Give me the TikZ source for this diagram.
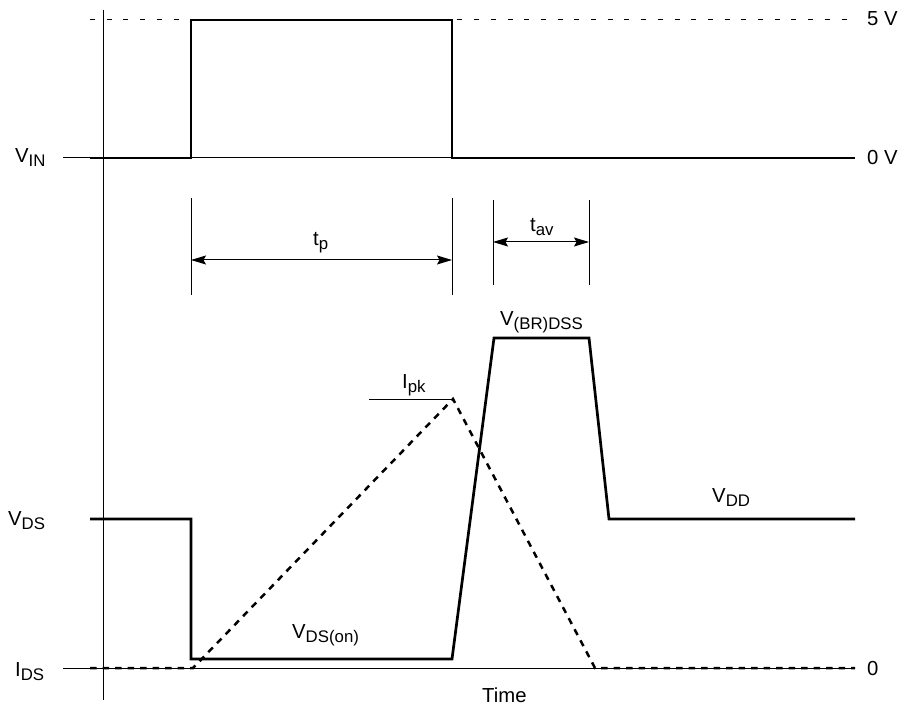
\documentclass[tikz,border=0pt]{standalone}
\usepackage{fontspec}
\setmainfont{Liberation Sans}
\usepackage{tikz}
\usetikzlibrary{arrows.meta, positioning}
\newcommand{\lowsub}[1]{\raisebox{-4pt}{\fontsize{16.8}{18}\selectfont #1}}

\begin{document}
\begin{tikzpicture}[x=1pt,y=-1pt,
  every node/.style={font=\fontsize{20.3}{24}\selectfont, inner sep=0pt, anchor=base west},
  wave/.style={line width=2.7pt, line join=miter},
  base/.style={line width=1pt},
  dim/.style={line width=1pt, {Stealth[length=15pt,width=9pt,inset=2.5pt]}-{Stealth[length=15pt,width=9pt,inset=2.5pt]}}]
\useasboundingbox (0,0) rectangle (904,708);
% axes and reference levels
\path coordinate (top) at (103,10)
      coordinate (bot) at (103,700)
      coordinate (hiL) at (90,20)   coordinate (hiR) at (855,20)
      coordinate (inL) at (63,158)  coordinate (inR) at (855,158)
      coordinate (idL) at (63,668)  coordinate (idR) at (855,668);
\draw[base] (top) -- (bot);
\draw[base, dash pattern=on 5pt off 11.7pt] (hiL) -- (hiR);
\draw[base] (inL) -- (inR);
\draw[base] (idL) -- (idR);
% input pulse
\draw[wave] (90,158) -- (191,158) -- (191,20) -- (452,20) -- (452,158) -- (inR);
% dimension lines
\path coordinate (p1) at (191,198) coordinate (p2) at (452,198)
      coordinate (a1) at (493,200) coordinate (a2) at (589,200);
\draw[base] (p1) -- ++(0,97);
\draw[base] (p2) -- ++(0,97);
\draw[base] (a1) -- ++(0,85);
\draw[base] (a2) -- ++(0,85);
\draw[dim] (191,260) -- (452,260);
\draw[dim] (493,242) -- (589,242);
% drain voltage
\path coordinate (ds0) at (90,519)
      coordinate (on1) at (191,659)
      coordinate (on2) at (452,659)
      coordinate (br1) at (494,338)
      coordinate (br2) at (589,338)
      coordinate (dd1) at (609,519)
      coordinate (dd2) at (855,519);
\draw[wave] (ds0) -- (191,519) -- (on1) -- (on2) -- (br1) -- (br2) -- (dd1) -- (dd2);
% drain current
\path coordinate (pk) at (453,399)
      coordinate (i1) at (193,668)
      coordinate (i2) at (595,668);
\draw[base] (369,399) -- (pk);
\draw[wave, line width=2.5pt, dash pattern=on 6.5pt off 6pt] (90,668) -- (i1) -- (pk) -- (i2) -- (idR);
% labels
\node at (15,163) {V\lowsub{IN}};
\node at (867,26) {5 V};
\node at (867,165) {0 V};
\node at (313,246) {t\lowsub{p}};
\node at (530,232) {t\lowsub{av}};
\node at (500,326) {V\lowsub{(BR)DSS}};
\node at (402,388) {I\lowsub{pk}};
\node at (712,502) {V\lowsub{DD}};
\node at (292,638) {V\lowsub{DS(on)}};
\node at (8,525) {V\lowsub{DS}};
\node at (15,676) {I\lowsub{DS}};
\node at (867,675) {0};
\node at (482,702) {Time};
\end{tikzpicture}
\end{document}
